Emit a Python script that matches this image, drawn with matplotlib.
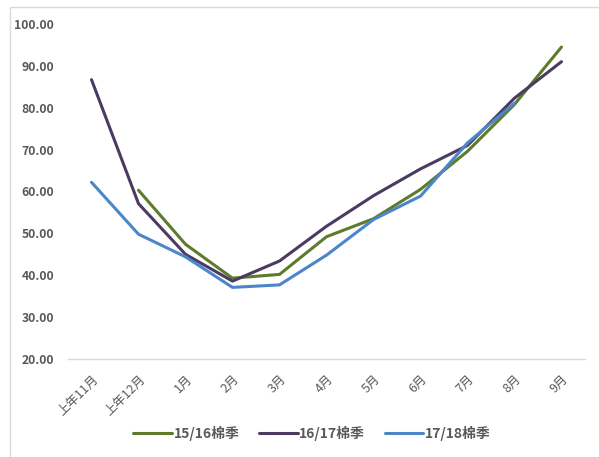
import matplotlib.pyplot as plt
from matplotlib.patches import Rectangle
import numpy as np

plt.rcParams['font.family'] = ['Noto Sans CJK SC', 'DejaVu Sans']

# ── data ────────────────────────────────────
months = ["上年11月", "上年12月", "1月", "2月", "3月", "4月",
          "5月", "6月", "7月", "8月", "9月"]
season_1516 = [np.nan, 60.3, 47.4, 39.3, 40.2, 49.2, 53.5, 60.5, 69.6, 80.8, 94.5]
season_1617 = [86.7, 57.1, 45.0, 38.6, 43.4, 51.7, 59.0, 65.4, 71.0, 82.3, 91.0]
season_1718 = [62.2, 49.8, 44.4, 37.1, 37.7, 44.8, 53.3, 58.9, 71.6, 81.1, np.nan]
labels = ["15/16棉季", "16/17棉季", "17/18棉季"]
colors = ["#5E7B2B", "#4B3B62", "#4A86C8"]
yticks = [20, 30, 40, 50, 60, 70, 80, 90, 100]

fig = plt.figure(figsize=(5.99, 4.57), dpi=100)
ax = fig.add_axes([68 / 599, 98 / 457, 517 / 599, 335 / 457])

x = np.arange(len(months))
for vals, lab, col in zip([season_1516, season_1617, season_1718], labels, colors):
    ax.plot(x, vals, color=col, lw=2.2, label=lab, solid_capstyle='round')

ax.set_xlim(-0.5, len(months) - 0.5)
ax.set_ylim(20, 100)
ax.set_yticks(yticks)
ax.set_yticklabels([f"{v:.2f}" for v in yticks])
ax.set_xticks(x)
ax.set_xticklabels(months, rotation=45, ha='right', rotation_mode='anchor')

for s in ['top', 'right', 'left']:
    ax.spines[s].set_visible(False)
ax.spines['bottom'].set_color('#D9D9D9')
ax.spines['bottom'].set_linewidth(1.0)
ax.tick_params(axis='both', length=0, colors='#595959')
ax.tick_params(axis='y', pad=10, labelsize=8.8)
ax.tick_params(axis='x', pad=10, labelsize=9)
for t in ax.get_yticklabels():
    t.set_fontweight('bold')

fig.legend(loc='center', bbox_to_anchor=(312 / 599, 1 - 433 / 457), ncol=3,
           frameon=False, handlelength=2.8, handletextpad=0.1, columnspacing=1.4,
           prop={'size': 10, 'weight': 'bold'}, labelcolor='#595959')

fig.patches.append(Rectangle((10 / 599, -0.01), 1.0, 1 - 7 / 457 + 0.01,
                             transform=fig.transFigure, fill=False,
                             edgecolor='#D9D9D9', lw=1.0))

fig.savefig("out.png", dpi=100)
